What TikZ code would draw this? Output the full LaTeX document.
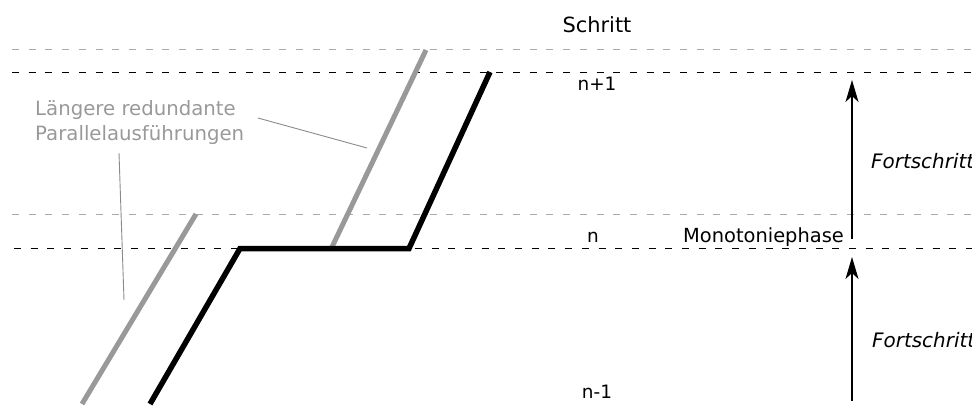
\documentclass[tikz,border=0pt]{standalone}
\usepackage{fontspec}
\setmainfont{DejaVu Sans}
\usetikzlibrary{arrows.meta}
\definecolor{midgray}{HTML}{999999}
\definecolor{lightgray}{HTML}{AAAAAA}
\definecolor{txtgray}{HTML}{999999}
\tikzset{
  levelline/.style={line width=1.3bp, black, dash pattern=on 7bp off 9.7bp},
  sublevel/.style={line width=1bp, lightgray, dash pattern=on 7bp off 9.7bp},
  mainrun/.style={line width=5.5bp, black, line join=miter},
  redrun/.style={line width=5bp, midgray},
  pointer/.style={line width=0.9bp, txtgray!90!black},
  progress/.style={line width=1.3bp, -{Stealth[length=22bp,width=13bp,inset=6bp]}},
  lab/.style={inner sep=0pt, font=\fontsize{18.5}{22}\selectfont},
  graylab/.style={inner sep=0pt, text=txtgray, font=\fontsize{19.8}{25}\selectfont, anchor=base west},
}
\begin{document}
\begin{tikzpicture}[x=1bp,y=-1bp]
\useasboundingbox (0,0) rectangle (972,407);
\clip (0,0) rectangle (972,407);
% level lines
\draw[sublevel] (12,49.5) -- (972,49.5);
\draw[levelline] (12,72.5) -- (972,72.5);
\draw[sublevel] (12,214.5) -- (972,214.5);
\draw[levelline] (14,248.5) -- (972,248.5);
% redundant runs
\coordinate (g1a) at (332,247);
\coordinate (g1b) at (426,50);
\coordinate (g2a) at (82,404);
\coordinate (g2b) at (196,214);
\draw[redrun] (g1a) -- (g1b);
\draw[redrun] (g2a) -- (g2b);
% main run
\coordinate (m0) at (150,404);
\coordinate (m1) at (240,248.5);
\coordinate (m2) at (409,248.5);
\coordinate (m3) at (490,72);
\draw[mainrun] (m0) -- (m1) -- (m2) -- (m3);
% labels
\node[lab, anchor=base, font=\fontsize{21}{25}\selectfont] (schritt) at (597,32) {Schritt};
\node[lab, anchor=base] (np1) at (597,90) {n+1};
\node[lab, anchor=base] (n) at (593,242) {n};
\node[lab, anchor=base] (nm1) at (597,398) {n-1};
\node[lab, anchor=base west, font=\fontsize{19.5}{23}\selectfont] (mono) at (683,242) {Monotoniephase};
\node[lab, anchor=base west, font=\fontsize{20}{24}\itshape] (fs1) at (871,168) {Fortschritt};
\node[lab, anchor=base west, font=\fontsize{20}{24}\itshape] (fs2) at (872,347) {Fortschritt};
\node[graylab] (lbl1) at (35,115) {Längere redundante};
\node[graylab] (lbl2) at (35,140) {Parallelausführungen};
% pointers
\coordinate (p1s) at (258,118);
\coordinate (p1e) at (367,148);
\coordinate (p2s) at (119,153);
\coordinate (p2e) at (124,300);
\draw[pointer] (p1s) -- (p1e);
\draw[pointer] (p2s) -- (p2e);
% progress arrows
\coordinate (a1s) at (852,239);
\coordinate (a1e) at (852,80);
\coordinate (a2s) at (852,401);
\coordinate (a2e) at (852,257);
\draw[progress] (a1s) -- (a1e);
\draw[progress] (a2s) -- (a2e);
\end{tikzpicture}
\end{document}
